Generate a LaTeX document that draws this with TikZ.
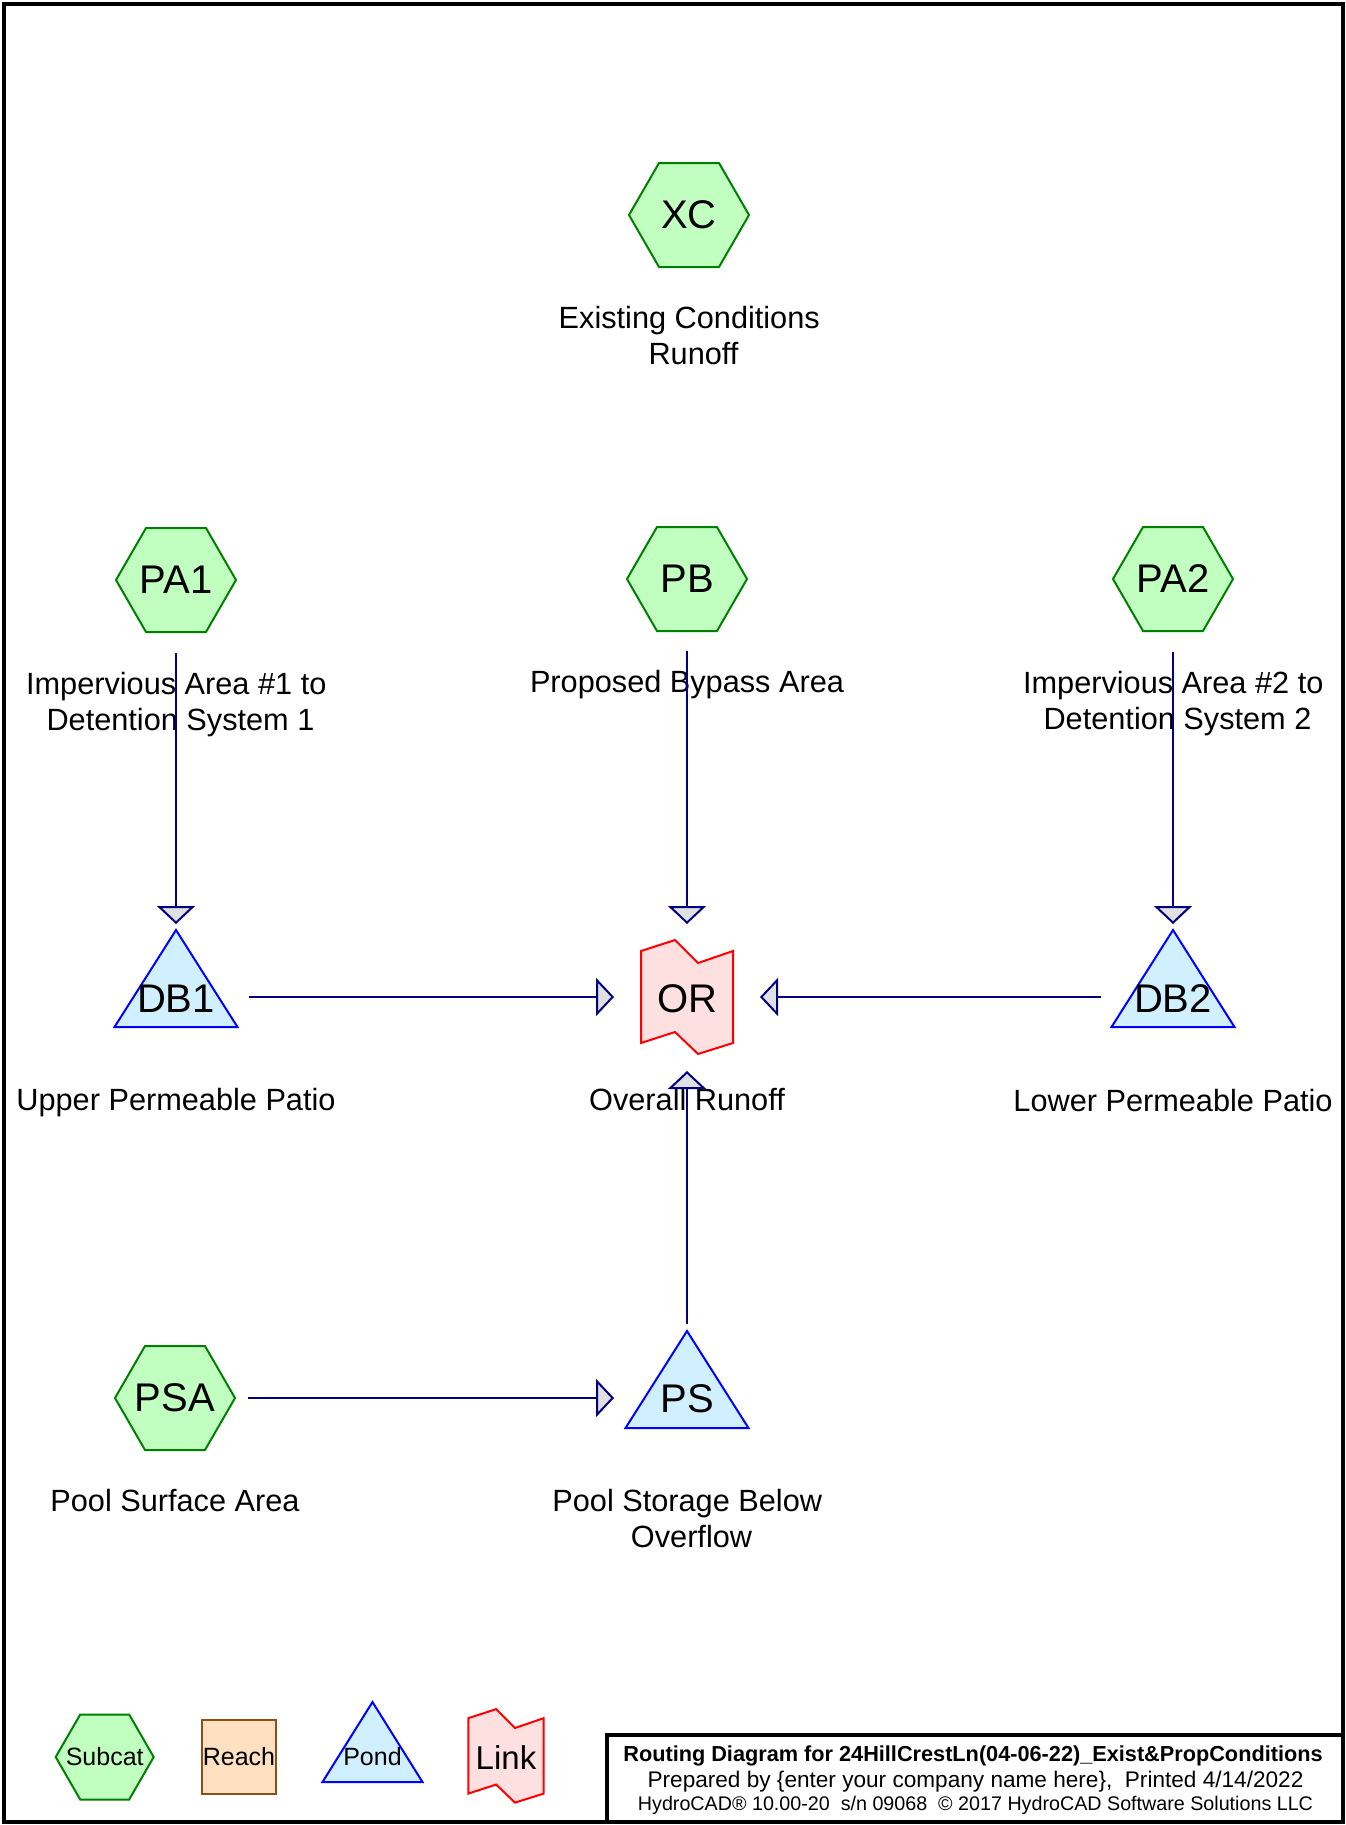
\documentclass[tikz,border=0pt]{standalone}
\usepackage{fontspec}
\setmainfont{Liberation Sans}
\usetikzlibrary{arrows.meta,positioning,shapes.geometric,calc}
\definecolor{subfill}{RGB}{192,255,192}
\definecolor{subline}{RGB}{0,128,0}
\definecolor{pondfill}{RGB}{208,240,255}
\definecolor{pondline}{RGB}{0,0,255}
\definecolor{linkfill}{RGB}{255,224,224}
\definecolor{linkline}{RGB}{255,0,0}
\definecolor{reachfill}{RGB}{255,224,192}
\definecolor{reachline}{RGB}{140,80,20}
\definecolor{flowblue}{RGB}{0,0,128}
\definecolor{tipgray}{RGB}{224,224,224}
\newcommand{\shapefont}{\fontsize{40}{48}\selectfont}
\newcommand{\lblfont}{\fontsize{30.7}{36.5}\selectfont}
\newcommand{\legfont}{\fontsize{25}{30}\selectfont}
\newcommand{\linkfont}{\fontsize{33}{40}\selectfont}
\newcommand{\trail}{\kern8.5pt}
\pgfdeclarelayer{bg}
\pgfsetlayers{bg,main}
% outlines drawn behind a text node
% node, half width, half height
\newcommand{\hexshape}[3]{%
  \begin{pgfonlayer}{bg}
    \draw[subhex,shift={(#1.center)}] (-#2,0) -- (-#2/2,-#3) -- (#2/2,-#3)
      -- (#2,0) -- (#2/2,#3) -- (-#2/2,#3) -- cycle;
  \end{pgfonlayer}}
% node, apex, base, half width
\newcommand{\pondshape}[4]{%
  \begin{pgfonlayer}{bg}
    \draw[pondtri,shift={(#1.center)}] (0,-#2) -- (#4,#3) -- (-#4,#3) -- cycle;
  \end{pgfonlayer}}
% node, scale
\newcommand{\linkshape}[2]{%
  \begin{pgfonlayer}{bg}
    \draw[linkpoly,shift={(#1.center)},scale=#2] (-46,-48) -- (-12,-59) -- (11,-36)
      -- (46,-48) -- (46,44) -- (11,55) -- (-12,33) -- (-46,44) -- cycle;
  \end{pgfonlayer}}

\begin{document}
\begin{tikzpicture}[x=1pt,y=-1pt,
    shapetext/.style={inner sep=0pt,font=\shapefont},
    subhex/.style={draw=subline,fill=subfill,line width=2pt},
    pondtri/.style={draw=pondline,fill=pondfill,line width=2pt},
    linkpoly/.style={draw=linkline,fill=linkfill,line width=2pt},
    reach/.style={rectangle,minimum size=74pt,inner sep=0pt,draw=reachline,
      fill=reachfill,line width=2pt,font=\legfont},
    lbl/.style={inner sep=0pt,align=center,anchor=north,font=\lblfont},
    lbltwo/.style={lbl,xshift=4.5pt},
    flow/.style={draw=flowblue,line width=2pt,
      -{Triangle[length=18pt,width=38pt,fill=tipgray]}}]
    \useasboundingbox (0,0) rectangle (1345,1825);
    \draw[line width=4pt] (4,4) rectangle (1343,1822);

    % subcatchments
    \node[shapetext] (XC) at (689,215) {XC};
    \node[shapetext] (PA1) at (176,580) {PA1};
    \node[shapetext] (PB) at (687,579) {PB};
    \node[shapetext] (PA2) at (1173,579) {PA2};
    \node[shapetext] (PSA) at (175,1398) {PSA};
    \foreach \n in {XC,PA1,PB,PA2,PSA}
      {\hexshape{\n}{60}{52}}

    % ponds and link
    \node[shapetext] (DB1) at (176,999) {DB1};
    \node[shapetext] (DB2) at (1173,999) {DB2};
    \node[shapetext] (PS) at (687,1399) {PS};
    \node[shapetext] (OR) at (687,999) {OR};
    \pondshape{DB1}{69}{28}{61.5}
    \pondshape{DB2}{69}{28}{61.5}
    \pondshape{PS}{68}{29}{61.5}
    \linkshape{OR}{1}

    % labels
    \node[lbltwo,below=91pt of XC.center] (XC-l) {Existing Conditions\trail\\Runoff};
    \node[lbltwo,below=92pt of PA1.center] (PA1-l) {Impervious Area \#1 to\trail\\Detention System 1};
    \node[lbl,below=91pt of PB.center] (PB-l) {Proposed Bypass Area};
    \node[lbltwo,below=92pt of PA2.center] (PA2-l) {Impervious Area \#2 to\trail\\Detention System 2};
    \node[lbl,below=89pt of DB1.center] (DB1-l) {Upper Permeable Patio};
    \node[lbl,below=89pt of OR.center] (OR-l) {Overall Runoff};
    \node[lbl,below=90pt of DB2.center] (DB2-l) {Lower Permeable Patio};
    \node[lbl,below=91pt of PSA.center] (PSA-l) {Pool Surface Area};
    \node[lbltwo,below=90pt of PS.center] (PS-l) {Pool Storage Below\trail\\Overflow};

    % routing
    \draw[flow] ($(PA1)+(0,73)$) -- ($(DB1)+(0,-75)$);
    \draw[flow] ($(PB)+(0,72)$) -- ($(OR)+(0,-75)$);
    \draw[flow] ($(PA2)+(0,73)$) -- ($(DB2)+(0,-75)$);
    \draw[flow] ($(DB1)+(73,-2)$) -- ($(OR)+(-73,-2)$);
    \draw[flow] ($(DB2)+(-72,-2)$) -- ($(OR)+(73,-2)$);
    \draw[flow] ($(PS)+(0,-75)$) -- ($(OR)+(0,72)$);
    \draw[flow] ($(PSA)+(73,0)$) -- ($(PS)+(-73,-1)$);

    % legend
    \node[shapetext,font=\legfont] (legsub) at (104.7,1757) {Subcat};
    \node[reach] (legreach) at (239,1757) {Reach};
    \node[shapetext,font=\legfont] (legpond) at (372.5,1757) {Pond};
    \node[shapetext,font=\linkfont] (leglink) at (506,1757.5) {Link};
    \hexshape{legsub}{49}{42.5}
    \pondshape{legpond}{55}{25}{50}
    \linkshape{leglink}{0.82}

    % title block
    \draw[line width=4pt] (606.5,1822) -- (606.5,1735) -- (1343,1735);
    \node[anchor=base,inner sep=0pt,font=\fontsize{21.7}{25}\selectfont\bfseries] (ttl1)
      at (973,1761) {Routing Diagram for 24HillCrestLn(04-06-22)\_Exist\&PropConditions};
    \node[anchor=base,inner sep=0pt,font=\fontsize{22.6}{26}\selectfont] (ttl2)
      at (975.5,1787) {Prepared by \{enter your company name here\},\ \ Printed 4/14/2022};
    \node[anchor=base,inner sep=0pt,font=\fontsize{19.7}{24}\selectfont] (ttl3)
      at (975.5,1810) {HydroCAD® 10.00-20\ \ s/n 09068\ \ © 2017 HydroCAD Software Solutions LLC};
  \end{tikzpicture}
\end{document}
